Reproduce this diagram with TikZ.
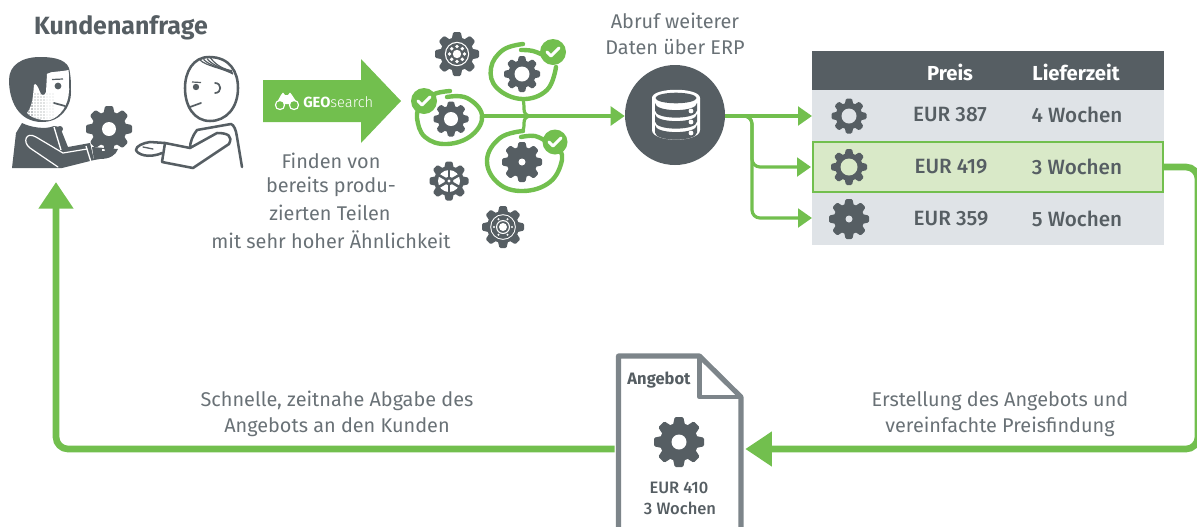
\documentclass[tikz,border=0pt]{standalone}
\usepackage{fontspec}
\setmainfont{Fira Sans}
\newfontfamily\firamed{Fira Sans Medium}
\newfontfamily\firalight{Fira Sans Light}
\usetikzlibrary{arrows.meta,calc}
\definecolor{dk}{HTML}{565E63}
\definecolor{grn}{HTML}{72BF4E}
\definecolor{txt}{HTML}{697176}
\definecolor{rowbg}{HTML}{DFE3E7}
\definecolor{rowgr}{HTML}{D9E9C8}
\definecolor{docl}{HTML}{7D858A}
\tikzset{
 lab/.style={text=txt,font=\fontsize{14.9}{16}\selectfont,inner sep=0pt,align=center},
 cell/.style={text=dk,font=\firamed\fontsize{15.5}{16}\selectfont,inner sep=0pt},
 head/.style={text=white,font=\bfseries\fontsize{15.2}{16}\selectfont,inner sep=0pt},
 docb/.style={text=dk,font=\firamed\fontsize{12.4}{13}\selectfont,inner sep=0pt},
 conn/.style={draw=grn,line width=2.4pt,rounded corners=6pt},
 tip/.style={-{Triangle[length=10.5pt,width=14pt]}},
 thick line/.style={draw=grn,line width=5pt,rounded corners=9pt},
 big tip/.style={-{Triangle[length=20pt,width=25pt]}},
 ringl/.style={draw=grn,line width=3.3pt,line cap=round},
 outl/.style={draw=dk,line width=1.9pt,line cap=round,line join=round},
}
\newcommand{\geartooth}[3]{\foreach \a in {0,45,...,315}{\fill[dk,shift={(#1,#2)},rotate=\a,rounded corners=.9pt]
   (-.27*#3,-.55*#3) -- (-.17*#3,-#3) -- (.17*#3,-#3) -- (.27*#3,-.55*#3) -- cycle;}}
\newcommand{\gearicon}[5]{% x y R hole colour
  \geartooth{#1}{#2}{#3}
  \fill[dk] (#1,#2) circle[radius=.76*#3];
  \fill[#5] (#1,#2) circle[radius=#4];}
\newcommand{\checkbadge}[3]{%
  \fill[grn] (#1,#2) circle[radius=#3];
  \draw[white,line width=2.2pt,line cap=round,line join=round] ($(#1,#2)+(-6,0)$) -- ++(4,4) -- ++(8,-8);}
\begin{document}
\begin{tikzpicture}[x=.75pt,y=-.75pt]
\useasboundingbox (0,0) rectangle (1197,526);
% table
\node[fill=dk,minimum width=264pt,minimum height=29.25pt,inner sep=0pt] (thead) at (988,70.5) {};
\node[fill=rowbg,minimum width=264pt,minimum height=38.25pt,inner sep=0pt] (row1) at (988,115.5) {};
\node[fill=rowbg,minimum width=264pt,minimum height=39pt,inner sep=0pt] (row3) at (988,219) {};
\node[fill=rowgr,draw=grn,line width=1.5pt,minimum width=262pt,minimum height=37.5pt,inner sep=0pt] (row2) at (988,167) {};
\node[head] (hp) at (950,72) {Preis};
\node[head] (hl) at (1076,72) {Lieferzeit};
\node[cell] (p1) at (950,115) {EUR 387};
\node[cell] (l1) at (1077,114.5) {4 Wochen};
\node[cell] (p2) at (951,167) {EUR 419};
\node[cell] (l2) at (1077,166.5) {3 Wochen};
\node[cell] (p3) at (951,219) {EUR 359};
\node[cell] (l3) at (1077,218.5) {5 Wochen};
\gearicon{849}{116}{17.5}{7.5}{rowbg}
\gearicon{849}{167}{18}{8.5}{rowgr}
\gearicon{849}{219}{20}{3.5}{rowbg}
% database
\node[circle,fill=dk,minimum size=75pt,inner sep=0pt] (db) at (675,115) {};
\fill[white] (652,98) -- (652,130) .. controls (652,143) and (700,143) .. (700,130) -- (700,98) .. controls (700,87) and (652,87) .. (652,98) -- cycle;
\fill[dk] (676,98) ellipse[x radius=20.5,y radius=5.3];
\foreach \yy in {103,114,125}{
 \fill[dk] (655,\yy) -- (655,\yy+7.5) .. controls (655,\yy+17) and (697,\yy+17) .. (697,\yy+7.5) -- (697,\yy) .. controls (697,\yy+9.5) and (655,\yy+9.5) .. (655,\yy) -- cycle;
 \fill[white] (691,\yy+8) circle[radius=2.4];
}
% connectors
\coordinate (a1) at (812,116);
\coordinate (a2) at (811,167);
\coordinate (a3) at (812,218);
\coordinate (bstart) at (745,116);
\coordinate (branch) at (752,116);
\draw[conn,tip] (db.east |- a1) -- (a1);
\draw[conn,tip] (bstart) -- (branch) |- (a2);
\draw[conn,tip] (bstart) -- (branch) |- (a3);
\coordinate (src) at (483,116);
\draw[conn,tip] (src) -- (db.west |- src);
\coordinate (rb1) at (523,99);
\coordinate (rb3) at (523,131);
\draw[draw=grn,line width=2.4pt] (rb1) .. controls (524,104) and (524,106) .. (524,109) .. controls (524,113) and (526,116) .. (531,116);
\draw[draw=grn,line width=2.4pt] (rb3) .. controls (524,128) and (524,126) .. (524,123) .. controls (524,119) and (526,116) .. (531,116);
% ringed gears
\gearicon{522}{74}{18}{7.5}{white}
\gearicon{451}{119}{17.5}{7}{white}
\gearicon{522}{162}{20}{3.5}{white}
\draw[ringl] plot[smooth,tension=.7] coordinates {(523,44)(503,50)(491,68)(497,88)(522,99)(547,90)(556,67)};
\draw[ringl] plot[smooth,tension=.7] coordinates {(521,50)(533,51)(545,56)};
\checkbadge{553}{52}{13}
\draw[ringl] plot[smooth,tension=.7] coordinates {(447,97)(467,98)(482,115)(472,135)(447,144)(425,137)(417,118)(420,105)};
\draw[ringl] plot[smooth,tension=.7] coordinates {(450,91)(437,93)(427,98)};
\checkbadge{424}{101}{13}
\draw[ringl] plot[smooth,tension=.7] coordinates {(523,131)(500,138)(487,160)(498,183)(523,191)(550,182)(562,160)(558,147)};
\draw[ringl] plot[smooth,tension=.7] coordinates {(521,137)(535,136)(547,142)};
\checkbadge{555}{142}{12.5}
% ornamental gears
\gearicon{457}{54}{22}{12.2}{white}
\fill[dk] (457,54) circle[radius=11];
\foreach \a in {0,45,...,315}{\fill[white] ($(457,54)+(\a:7.5)$) circle[radius=1.9];}
\fill[white] (457,54) circle[radius=4.2];
\gearicon{449}{181}{19.5}{11}{white}
\foreach \a in {30,90,...,330}{\draw[dk,line width=1.9pt] (449,181) -- ($(449,181)+(\a:11.5)$);}
\fill[dk] (449,181) circle[radius=4.4];
\fill[white] (449,181) circle[radius=1.6];
\gearicon{503}{227}{21}{12.8}{white}
\fill[dk] (503,227) circle[radius=11.8];
\foreach \a in {0,60,...,300}{\fill[white] ($(503,227)+(\a:9)$) circle[radius=1.1];}
\fill[white] (503,227) circle[radius=7];
\fill[dk] (503,227) circle[radius=5.8];
\fill[white] (503,227) circle[radius=4];
% labels
\node[text=dk,font=\bfseries\fontsize{18.7}{20}\selectfont,inner sep=0pt] (title) at (121,28) {Kundenanfrage};
\node[lab] (erp1) at (675,21) {Abruf weiterer};
\node[lab] (erp2) at (675,47) {Daten über ERP};
\node[lab] (f1) at (331,161) {Finden von};
\node[lab] (f2) at (331,187) {bereits produ-};
\node[lab] (f3) at (330,213) {zierten Teilen};
\node[lab] (f4) at (331,240) {mit sehr hoher Ähnlichkeit};
\node[lab] (s1) at (337,401) {Schnelle, zeitnahe Abgabe des};
\node[lab] (s2) at (337,427) {Angebots an den Kunden};
\node[lab] (e1) at (1000,401) {Erstellung des Angebots und};
\node[lab] (e2) at (1000,427) {vereinfachte Preisfindung};
% GEOsearch arrow
\fill[grn] (263,80) -- (361,80) -- (361,59) -- (401,101) -- (361,143) -- (361,122) -- (263,122) -- cycle;
\node[text=white,font=\firalight\fontsize{11}{12}\selectfont,inner sep=0pt,anchor=west] (geo) at (303,102) {{\bfseries\fontspec{Fira Sans}GEO}search};
\fill[white] (276,104) -- (281,95) -- (283,92.5) -- (285,95) -- (288,95) -- (290,92.5) -- (292,95) -- (298,104) -- cycle;
\foreach \xx in {280,294}{\fill[white] (\xx,105) circle[radius=5.2];\fill[grn] (\xx,105) circle[radius=3.8];}
% document
\node[minimum width=97.5pt,minimum height=10pt,inner sep=0pt] (doc) at (680,449) {};
\draw[docl,line width=3.8pt,line join=round,fill=white] (618.5,535) -- (618.5,356) -- (699.5,356) -- (741,397) -- (741,535);
\draw[docl,line width=3.6pt,line join=round] (699.5,356) -- (699.5,397) -- (741,397);
\node[text=dk,font=\bfseries\fontsize{12.4}{13}\selectfont,inner sep=0pt] (ang) at (659,380) {Angebot};
\gearicon{679}{442}{25}{7.5}{white}
\node[docb] (d1) at (679,488) {EUR 410};
\node[docb] (d2) at (680,508) {3 Wochen};
% thick arrows
\coordinate (rr1) at (1198,167);
\coordinate (rr2) at (1198,449);
\coordinate (kd) at (56,182);
\coordinate (ll) at (56,449);
\draw[thick line,big tip] (row2.east) -- (rr1) -- (rr2) -- (doc.east);
\draw[thick line,big tip] (doc.west) -- (ll) -- (kd);
% left person
\fill[dk] (22,123) .. controls (30,127) and (45,130) .. (54,126) -- (60,127) -- (68,147) -- (90,143) -- (94,160) -- (62,168) -- (12,168) -- (16,133) -- cycle;
\draw[white,line width=.9pt,line cap=round] (58,167) -- (30,148) .. controls (22,142) and (26,131) .. (36,137) -- (63,153) -- (87,149);
\draw[white,line width=1pt] (54,127) -- (61,150);
\draw[white,line width=1pt] (86,146) -- (91,162);
\fill[dk] (60,129) circle[radius=3];
\fill[dk] (69,68) .. controls (65,58) and (50,57) .. (40,57) .. controls (22,57) and (9,65) .. (9,80) .. controls (9,100) and (18,122) .. (42,122) .. controls (60,122) and (71,108) .. (71,92) .. controls (71,84) and (71,76) .. (69,68) -- cycle;
\begin{scope}
\clip (68.5,70) .. controls (60,72) and (52,71) .. (47,74) -- (46,92) .. controls (45,96) and (41,96) .. (40,92) .. controls (38,86) and (35,82) .. (34,85) .. controls (33,95) and (33,105) .. (27,113) .. controls (32,119) and (44,121) .. (50,120) .. controls (60,117) and (69,105) .. (69,90) .. controls (69,82) and (69,76) .. (68.5,70) -- cycle;
\fill[white] (20,60) rectangle (75,125);
\foreach \i in {0,...,9}{\foreach \j in {0,...,9}{\fill[dk!75] ({26+\i*3},{94+\j*3}) circle[radius={.95-\i*.07}];}}
\fill[white] (47,72) rectangle (75,92);
\end{scope}
\fill[dk] (58,86) circle[radius=3.4];
\draw[dk,line width=.9pt] (52,79.5) -- (63,79);
\draw[outl,line width=1.3pt] (54,103) -- (65,106);
% right person
\draw[outl] (209,57) .. controls (230,57) and (238,72) .. (238,88) .. controls (238,108) and (226,121) .. (210,121) .. controls (194,121) and (185,106) .. (185,88) .. controls (185,72) and (193,57) .. (209,57) -- cycle;
\foreach \d in {0,3.5,7,10.5}{\draw[dk,line width=.9pt] (200+\d,60-\d*.2) .. controls (206+\d,66) and (222+.2*\d,68+.1*\d) .. (233-.1*\d,74-.3*\d);}
\fill[dk] (196,87) circle[radius=3.2];
\draw[dk,line width=.9pt] (192,82) -- (201,82.5);
\draw[outl,line width=1.3pt] (190,107) -- (201,103);
\draw[outl,line width=1.3pt] (215,83) .. controls (222,83) and (222,93) .. (215,93);
\draw[outl] (242,167) -- (237,137) .. controls (236,130) and (234,125) .. (231,124) -- (197,130) .. controls (193,135) and (190,142) .. (190,148);
\draw[outl] (162,162) -- (193,168) -- (229,144) .. controls (233,136) and (228,133) .. (217,133) -- (190,148) -- (165,143) -- cycle;
\draw[outl] (165,143) -- (150,142) .. controls (143,143) and (136,146) .. (136,150) .. controls (137,154) and (148,159) .. (162,153);
\draw[outl,line width=1pt] (143,147) -- (153,149);
% left hand and gear
\fill[dk] (92,147) -- (118,149) .. controls (116,155) and (110,159) .. (100,159) -- (94,160) -- cycle;
\draw[white,line width=.8pt] (102,150) -- (113,150);
\gearicon{109}{129}{23}{7}{white}
\end{tikzpicture}
\end{document}
